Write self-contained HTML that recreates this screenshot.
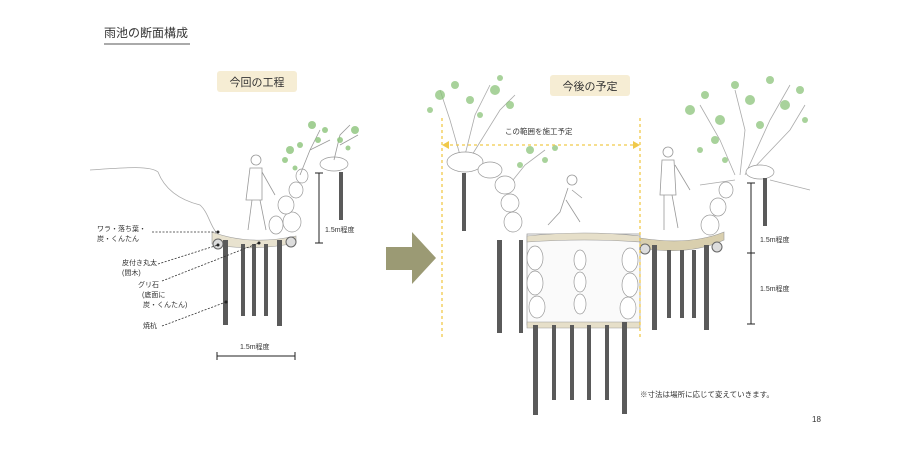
<!DOCTYPE html>
<html><head><meta charset="utf-8"><style>
body{margin:0;background:#fff;}
svg{display:block;font-family:"Liberation Sans","Noto Sans CJK JP",sans-serif;}
</style></head><body>
<svg width="920" height="450" viewBox="0 0 920 450" xmlns="http://www.w3.org/2000/svg">
<rect width="920" height="450" fill="#fff"/>
<text x="104" y="37" font-size="12" fill="#333">雨池の断面構成</text>
<line x1="104" y1="44" x2="190" y2="44" stroke="#555" stroke-width="1"/>
<rect x="217" y="71" width="80" height="21" rx="3" fill="#f6edd4"/>
<text x="257" y="86" font-size="11" text-anchor="middle" fill="#333">今回の工程</text>
<rect x="550" y="75" width="80" height="21" rx="3" fill="#f6edd4"/>
<text x="590" y="90" font-size="11" text-anchor="middle" fill="#333">今後の予定</text>
<polygon points="386,247 412,247 412,232 436,258 412,284 412,270 386,270" fill="#9b9a74"/>

<!-- LEFT DIAGRAM -->
<path d="M90,170 C120,168 150,165 158,172 C165,190 180,200 200,205 C208,212 210,225 216,232" fill="none" stroke="#aaa" stroke-width="0.8"/>
<path d="M212,232 Q250,246 296,236 L296,243 Q250,252 212,244 Z" fill="#e8e2cf" stroke="#999" stroke-width="0.6"/>
<circle cx="218" cy="244" r="5" fill="#ddd" stroke="#666"/>
<circle cx="291" cy="242" r="5" fill="#ddd" stroke="#666"/>
<g fill="#fff" stroke="#999" stroke-width="0.7">
<ellipse cx="292" cy="222" rx="9" ry="10"/><ellipse cx="286" cy="205" rx="8" ry="9"/>
<ellipse cx="296" cy="190" rx="7" ry="8"/><ellipse cx="302" cy="176" rx="6" ry="7"/>
<ellipse cx="276" cy="225" rx="7" ry="9"/>
<ellipse cx="334" cy="164" rx="14" ry="7"/>
</g>
<g fill="none" stroke="#999" stroke-width="0.8">
<circle cx="256" cy="160" r="5"/><path d="M250,168 L246,200 L262,200 L262,168 Z M252,200 L248,230 M260,200 L266,230 M262,172 L275,195"/>
<path d="M300,175 L310,150 L320,130 M310,150 L330,140 M334,160 L340,135 L350,125 M340,145 L358,135"/>
</g>
<g fill="#8cc47a" opacity="0.8">
<circle cx="290" cy="150" r="4"/><circle cx="300" cy="145" r="3"/><circle cx="285" cy="160" r="3"/><circle cx="312" cy="125" r="4"/><circle cx="325" cy="130" r="3"/><circle cx="340" cy="140" r="3"/><circle cx="355" cy="130" r="4"/><circle cx="318" cy="140" r="3"/><circle cx="295" cy="168" r="2.5"/><circle cx="348" cy="148" r="2.5"/>
</g>
<g fill="#5a5a5a">
<rect x="223" y="240" width="5" height="85"/><rect x="241" y="244" width="4" height="72"/><rect x="252" y="244" width="4" height="72"/><rect x="264" y="244" width="4" height="72"/><rect x="277" y="240" width="5" height="86"/>
<rect x="339" y="172" width="4" height="48"/>
</g>
<g stroke="#222" stroke-width="1">
<line x1="319" y1="173" x2="319" y2="243"/><line x1="315" y1="173" x2="323" y2="173"/><line x1="315" y1="243" x2="323" y2="243"/>
<line x1="217" y1="356" x2="295" y2="356"/><line x1="217" y1="352" x2="217" y2="360"/><line x1="295" y1="352" x2="295" y2="360"/>
</g>
<text x="325" y="232" font-size="7" fill="#333">1.5m程度</text>
<text x="240" y="349" font-size="7" fill="#333">1.5m程度</text>
<g font-size="7" fill="#333">
<text x="97" y="231">ワラ・落ち葉・</text><text x="97" y="241">炭・くんたん</text>
<text x="122" y="265">皮付き丸太</text><text x="122" y="275">(間木)</text>
<text x="138" y="287">グリ石</text><text x="142" y="297">(底面に</text><text x="143" y="307">炭・くんたん)</text>
<text x="143" y="328">焼杭</text>
</g>
<g stroke="#333" stroke-width="0.8" stroke-dasharray="2,1.5" fill="none">
<line x1="152" y1="232" x2="218" y2="232"/>
<line x1="158" y1="264" x2="218" y2="245"/>
<line x1="162" y1="281" x2="259" y2="243"/>
<line x1="162" y1="326" x2="226" y2="302"/>
</g>
<g fill="#222"><circle cx="218" cy="232" r="1.5"/><circle cx="218" cy="245" r="1.5"/><circle cx="259" cy="243" r="1.5"/><circle cx="226" cy="302" r="1.5"/></g>

<!-- RIGHT DIAGRAM -->
<g fill="none" stroke="#aaa" stroke-width="0.8">
<path d="M460,155 L450,120 L440,90 M465,155 L475,115 L490,85 M472,155 L500,110 L515,95 M505,190 L525,165 L545,150"/>
<path d="M735,175 L720,140 L700,105 M740,175 L745,130 L735,90 M745,175 L770,120 L790,85 M752,170 L790,130 L805,105 M735,180 L700,185 M770,180 L810,190"/>
</g>
<g fill="#8cc47a" opacity="0.75">
<circle cx="440" cy="95" r="5"/><circle cx="455" cy="85" r="4"/><circle cx="470" cy="100" r="4"/><circle cx="495" cy="90" r="5"/><circle cx="510" cy="105" r="4"/><circle cx="480" cy="115" r="3"/><circle cx="430" cy="110" r="3"/><circle cx="500" cy="78" r="3"/>
<circle cx="530" cy="150" r="4"/><circle cx="545" cy="160" r="3"/><circle cx="555" cy="148" r="3"/><circle cx="520" cy="165" r="3"/>
<circle cx="690" cy="110" r="5"/><circle cx="705" cy="95" r="4"/><circle cx="720" cy="120" r="5"/><circle cx="735" cy="85" r="4"/><circle cx="750" cy="100" r="5"/><circle cx="770" cy="80" r="4"/><circle cx="785" cy="105" r="5"/><circle cx="800" cy="90" r="4"/><circle cx="715" cy="140" r="4"/><circle cx="700" cy="150" r="3"/><circle cx="760" cy="125" r="4"/><circle cx="725" cy="160" r="3"/><circle cx="805" cy="120" r="3"/>
</g>
<g fill="#fff" stroke="#999" stroke-width="0.7">
<ellipse cx="465" cy="162" rx="18" ry="10"/><ellipse cx="490" cy="170" rx="12" ry="8"/><ellipse cx="505" cy="185" rx="10" ry="9"/>
<ellipse cx="510" cy="203" rx="9" ry="9"/><ellipse cx="513" cy="222" rx="9" ry="10"/>
<path d="M527,234 L640,234 L640,325 L527,325 Z" fill="#fafafa"/>
<ellipse cx="535" cy="258" rx="8" ry="12"/><ellipse cx="535" cy="283" rx="8" ry="12"/><ellipse cx="537" cy="307" rx="8" ry="11"/>
<ellipse cx="580" cy="260" rx="6" ry="10"/><ellipse cx="580" cy="282" rx="6" ry="10"/><ellipse cx="580" cy="304" rx="6" ry="10"/>
<ellipse cx="630" cy="260" rx="8" ry="12"/><ellipse cx="630" cy="285" rx="8" ry="12"/><ellipse cx="628" cy="308" rx="8" ry="11"/>
<ellipse cx="710" cy="225" rx="9" ry="10"/><ellipse cx="718" cy="207" rx="8" ry="9"/><ellipse cx="726" cy="190" rx="7" ry="8"/>
<ellipse cx="760" cy="172" rx="14" ry="7"/>
</g>
<path d="M527,236 Q585,230 640,236 L640,242 Q585,238 527,242 Z" fill="#e6dfc9" stroke="#999" stroke-width="0.6"/>
<path d="M640,238 Q690,246 724,232 L724,240 Q690,256 640,248 Z" fill="#d9cfae" stroke="#999" stroke-width="0.6"/>
<path d="M527,322 L640,322 L640,328 L527,328 Z" fill="#e6dfc9" stroke="#999" stroke-width="0.6"/>
<circle cx="645" cy="249" r="5" fill="#ddd" stroke="#666"/><circle cx="717" cy="247" r="5" fill="#ddd" stroke="#666"/>
<g fill="none" stroke="#999" stroke-width="0.8">
<circle cx="572" cy="180" r="5"/><path d="M568,188 L560,212 L548,225 M566,200 L580,222 M572,190 L582,198"/>
<circle cx="668" cy="152" r="5"/><path d="M662,160 L660,195 L676,195 L674,160 Z M664,195 L664,230 M672,195 L678,228 M675,165 L690,190"/>
</g>
<g fill="#5a5a5a">
<rect x="462" y="173" width="4" height="58"/>
<rect x="497" y="240" width="5" height="93"/><rect x="519" y="240" width="4" height="93"/>
<rect x="533" y="325" width="5" height="90"/><rect x="552" y="325" width="4" height="75"/><rect x="570" y="325" width="4" height="75"/><rect x="587" y="325" width="4" height="75"/><rect x="605" y="325" width="4" height="75"/><rect x="622" y="322" width="5" height="92"/>
<rect x="652" y="245" width="5" height="85"/><rect x="667" y="250" width="4" height="68"/><rect x="680" y="250" width="4" height="68"/><rect x="692" y="250" width="4" height="68"/><rect x="704" y="245" width="5" height="85"/>
<rect x="763" y="178" width="4" height="48"/>
</g>
<g stroke="#f0c94a" stroke-width="1.3" stroke-dasharray="3,3" fill="none">
<line x1="442" y1="118" x2="442" y2="340"/><line x1="640" y1="118" x2="640" y2="340"/>
<line x1="444" y1="145" x2="638" y2="145"/>
</g>
<polygon points="442,145 449,141 449,149" fill="#f0c94a"/><polygon points="640,145 633,141 633,149" fill="#f0c94a"/>
<text x="505" y="134" font-size="7.5" fill="#333">この範囲を施工予定</text>
<g stroke="#222" stroke-width="1">
<line x1="751" y1="183" x2="751" y2="324"/><line x1="747" y1="183" x2="755" y2="183"/><line x1="747" y1="253" x2="755" y2="253"/><line x1="747" y1="324" x2="755" y2="324"/>
</g>
<text x="760" y="242" font-size="7" fill="#333">1.5m程度</text>
<text x="760" y="291" font-size="7" fill="#333">1.5m程度</text>
<text x="640" y="397" font-size="7.5" fill="#333">※寸法は場所に応じて変えていきます。</text>
<text x="812" y="422" font-size="8" fill="#333">18</text>
</svg>
</body></html>
